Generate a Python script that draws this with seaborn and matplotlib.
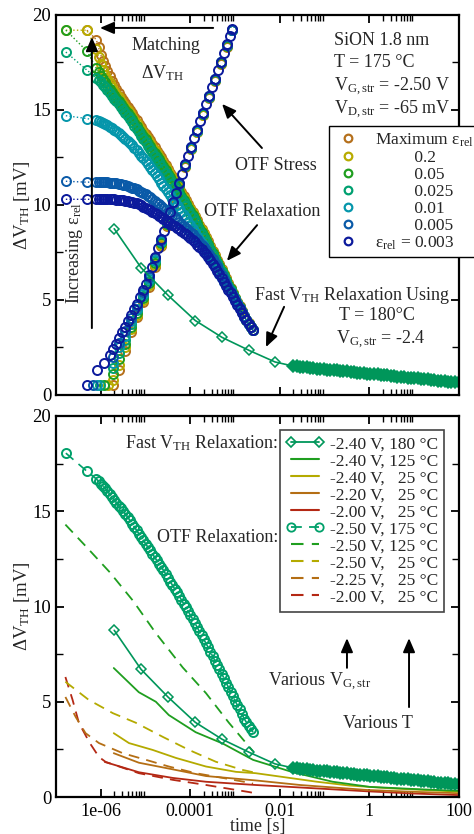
import numpy as np
import seaborn as sns
import matplotlib.pyplot as plt
from matplotlib.lines import Line2D
from matplotlib.ticker import FixedLocator, FixedFormatter, MultipleLocator, NullFormatter

# ---------------- data (time given as log10 of seconds) ----------------
eps_labels = ["Maximum", "0.2", "0.05", "0.025", "0.01", "0.005", "0.003"]
eps_colors = ["#b5701c", "#b8ab00", "#1f9e1f", "#00a070", "#0596ab", "#0a5aa8", "#0c1a9c"]

# OTF relaxation: first (sparse) points per curve, then a shared dense grid
relax_head_logt = [[-6.31], [-6.78, -6.31], [-6.78, -6.31], [-6.78, -6.31],
                   [-6.78, -6.31], [-6.78, -6.31], [-6.78, -6.31]]
relax_head_v = [[19.2], [19.2, 19.2], [19.2, 18.1], [18.05, 17.1],
                [14.7, 14.55], [11.25, 11.2], [10.3, 10.3]]
relax_logt = [-6.10, -6.05, -6.00, -5.95, -5.90, -5.85, -5.80, -5.75, -5.70, -5.65, -5.60,
              -5.55, -5.50, -5.45, -5.40, -5.35, -5.30, -5.25, -5.20, -5.15, -5.10, -5.05,
              -5.00, -4.95, -4.90, -4.85, -4.80, -4.75, -4.70, -4.65, -4.60, -4.55, -4.50,
              -4.45, -4.40, -4.35, -4.30, -4.25, -4.20, -4.15, -4.10, -4.05, -4.00, -3.95,
              -3.90, -3.85, -3.80, -3.75, -3.70, -3.65, -3.60, -3.55, -3.50, -3.45, -3.40,
              -3.35, -3.30, -3.25, -3.20, -3.15, -3.10, -3.05, -3.00, -2.95, -2.90, -2.85,
              -2.80, -2.75, -2.70, -2.65, -2.60]
relax_max = [18.7, 18.3, 17.9, 17.6, 17.3, 17.05, 16.8, 16.55, 16.3, 16.1, 15.9, 15.71, 15.52,
             15.35, 15.18, 15.0, 14.82, 14.64, 14.46, 14.28, 14.1, 13.92, 13.75, 13.57, 13.4,
             13.22, 13.04, 12.86, 12.68, 12.5, 12.31, 12.1, 11.9, 11.7, 11.51, 11.31, 11.11,
             10.9, 10.7, 10.49, 10.28, 10.07, 9.86, 9.65, 9.44, 9.2, 8.97, 8.75, 8.53, 8.3,
             8.08, 7.84, 7.6, 7.36, 7.12, 6.88, 6.64, 6.39, 6.14, 5.88, 5.63, 5.38, 5.13, 4.9,
             4.66, 4.41, 4.17, 3.97, 3.78, 3.59, 3.4]
relax_02 = [18.2, 17.8, 17.4, 17.1, 16.85, 16.62, 16.4, 16.2, 16.0, 15.83, 15.66, 15.49, 15.32,
            15.16, 15.0, 14.82, 14.65, 14.47, 14.3, 14.12, 13.95, 13.77, 13.6, 13.42, 13.25,
            13.07, 12.9, 12.72, 12.55, 12.36, 12.18, 11.98, 11.78, 11.59, 11.4, 11.2, 11.0,
            10.8, 10.6, 10.39, 10.18, 9.97, 9.77, 9.56, 9.36, 9.13, 8.9, 8.68, 8.46, 8.24,
            8.02, 7.78, 7.54, 7.3, 7.07, 6.83, 6.6, 6.35, 6.1, 5.85, 5.6, 5.35, 5.11, 4.87,
            4.64, 4.4, 4.16, 3.96, 3.77, 3.58, 3.4]
relax_005 = [17.2, 17.0, 16.8, 16.62, 16.45, 16.27, 16.1, 15.94, 15.78, 15.62, 15.47, 15.31,
             15.15, 15.0, 14.85, 14.67, 14.5, 14.32, 14.15, 13.97, 13.8, 13.62, 13.45, 13.27,
             13.1, 12.92, 12.75, 12.57, 12.4, 12.22, 12.04, 11.84, 11.64, 11.45, 11.26, 11.07,
             10.88, 10.68, 10.48, 10.27, 10.07, 9.86, 9.66, 9.46, 9.26, 9.03, 8.8, 8.58, 8.37,
             8.15, 7.94, 7.7, 7.46, 7.23, 7.0, 6.77, 6.54, 6.3, 6.05, 5.8, 5.56, 5.32, 5.08,
             4.85, 4.62, 4.38, 4.14, 3.95, 3.76, 3.58, 3.4]
relax_0025 = [16.7, 16.57, 16.45, 16.32, 16.2, 16.05, 15.9, 15.75, 15.6, 15.45, 15.3, 15.15,
              15.0, 14.85, 14.7, 14.52, 14.35, 14.17, 14.0, 13.82, 13.65, 13.47, 13.3, 13.12,
              12.95, 12.77, 12.6, 12.42, 12.25, 12.07, 11.9, 11.7, 11.5, 11.31, 11.12, 10.93,
              10.75, 10.55, 10.35, 10.15, 9.95, 9.75, 9.55, 9.35, 9.15, 8.92, 8.7, 8.49, 8.28,
              8.06, 7.85, 7.61, 7.38, 7.15, 6.93, 6.7, 6.48, 6.24, 6.0, 5.76, 5.52, 5.28, 5.05,
              4.82, 4.6, 4.36, 4.12, 3.93, 3.75, 3.57, 3.4]
relax_001 = [14.45, 14.41, 14.36, 14.31, 14.25, 14.19, 14.12, 14.05, 13.97, 13.89, 13.8, 13.7,
             13.6, 13.49, 13.38, 13.26, 13.14, 13.01, 12.88, 12.74, 12.6, 12.45, 12.3, 12.15,
             12.0, 11.84, 11.68, 11.52, 11.35, 11.18, 11.02, 10.85, 10.68, 10.51, 10.34, 10.17,
             10.0, 9.83, 9.65, 9.48, 9.3, 9.12, 8.94, 8.76, 8.58, 8.39, 8.2, 8.01, 7.82, 7.63,
             7.43, 7.23, 7.02, 6.81, 6.6, 6.39, 6.17, 5.97, 5.78, 5.59, 5.4, 5.22, 5.05, 4.82,
             4.6, 4.37, 4.15, 3.95, 3.75, 3.57, 3.4]
relax_0005 = [11.22, 11.21, 11.2, 11.2, 11.2, 11.19, 11.18, 11.17, 11.15, 11.14, 11.12, 11.1,
              11.07, 11.04, 11.0, 10.96, 10.92, 10.87, 10.82, 10.76, 10.7, 10.63, 10.56, 10.48,
              10.4, 10.31, 10.22, 10.13, 10.04, 9.95, 9.85, 9.75, 9.65, 9.55, 9.45, 9.35, 9.24,
              9.13, 9.02, 8.91, 8.8, 8.69, 8.57, 8.45, 8.32, 8.19, 8.06, 7.92, 7.78, 7.63, 7.48,
              7.32, 7.15, 6.97, 6.78, 6.55, 6.3, 6.08, 5.85, 5.63, 5.42, 5.21, 5.0, 4.78, 4.57,
              4.35, 4.14, 3.94, 3.75, 3.57, 3.4]
relax_0003 = [10.3, 10.3, 10.3, 10.3, 10.3, 10.3, 10.3, 10.3, 10.29, 10.28, 10.27, 10.26, 10.25,
              10.23, 10.21, 10.18, 10.15, 10.12, 10.08, 10.03, 9.98, 9.92, 9.86, 9.79, 9.72,
              9.65, 9.57, 9.5, 9.42, 9.35, 9.27, 9.2, 9.12, 9.04, 8.96, 8.88, 8.8, 8.72, 8.63,
              8.54, 8.45, 8.35, 8.25, 8.14, 8.03, 7.92, 7.8, 7.68, 7.55, 7.41, 7.27, 7.09, 6.9,
              6.73, 6.55, 6.35, 6.15, 5.95, 5.75, 5.55, 5.35, 5.15, 4.95, 4.75, 4.55, 4.33, 4.12,
              3.93, 3.74, 3.57, 3.4]
relax_dense = [relax_max, relax_02, relax_005, relax_0025, relax_001, relax_0005, relax_0003]

# OTF stress: eps = 0.003 on a fine grid, the others on a coarser grid
stress_fine_logt = [-6.31, -6.09, -5.93, -5.80, -5.73, -5.67, -5.60, -5.53, -5.46, -5.40,
                    -5.33, -5.26, -5.20, -5.13, -5.06, -4.99, -4.93, -4.86, -4.79, -4.73,
                    -4.66, -4.59, -4.53, -4.46, -4.39, -4.32, -4.26, -4.19, -4.12, -4.06,
                    -3.99, -3.92, -3.86, -3.79, -3.72, -3.65, -3.59, -3.52, -3.45, -3.39,
                    -3.32, -3.25, -3.18, -3.12, -3.07]
stress_0003 = [0.55, 1.3, 1.7, 2.1, 2.4, 2.7, 3.0, 3.3, 3.6, 3.9, 4.2, 4.5, 4.8, 5.15, 5.5,
               5.85, 6.3, 6.75, 7.25, 7.75, 8.2, 8.65, 9.15, 9.65, 10.15, 10.65, 11.15,
               11.65, 12.15, 12.6, 13.05, 13.5, 13.95, 14.4, 14.85, 15.3, 15.75, 16.2,
               16.65, 17.1, 17.55, 18.0, 18.45, 18.9, 19.25]
stress_coarse_logt = [-5.73, -5.60, -5.46, -5.33, -5.20, -5.06, -4.93, -4.79, -4.66, -4.53,
                      -4.39, -4.26, -4.12, -3.99, -3.86, -3.72, -3.59, -3.45, -3.32, -3.18, -3.07]
stress_start_logt = [None, -5.84, -5.93, -6.02, -6.09, -6.18]   # first point (0.55 mV)
stress_start_v = 0.55
stress_max = [0.55, 1.3, 2.3, 3.3, 4.1, 4.9, 5.7, 6.75, 7.85, 8.9, 9.95, 11.0, 12.0, 12.94,
              13.84, 14.74, 15.64, 16.54, 17.44, 18.34, 19.2]
stress_02 = [0.8, 1.6, 2.5, 3.45, 4.2, 5.0, 5.8, 6.85, 7.9, 8.95, 10.0, 11.03, 12.03, 12.96,
             13.86, 14.76, 15.66, 16.56, 17.46, 18.36, 19.2]
stress_005 = [1.1, 1.9, 2.7, 3.6, 4.3, 5.1, 5.9, 6.95, 7.98, 9.0, 10.03, 11.06, 12.05, 12.98,
              13.88, 14.78, 15.68, 16.58, 17.48, 18.38, 19.2]
stress_0025 = [1.4, 2.2, 2.9, 3.75, 4.45, 5.2, 6.0, 7.05, 8.05, 9.05, 10.07, 11.09, 12.08, 13.0,
               13.9, 14.8, 15.7, 16.6, 17.5, 18.4, 19.2]
stress_001 = [1.7, 2.5, 3.1, 3.9, 4.55, 5.3, 6.1, 7.12, 8.1, 9.1, 10.1, 11.11, 12.1, 13.01,
              13.92, 14.82, 15.72, 16.62, 17.52, 18.42, 19.22]
stress_0005 = [2.0, 2.75, 3.35, 4.05, 4.7, 5.4, 6.2, 7.2, 8.15, 9.12, 10.12, 11.13, 12.13, 13.03,
               13.93, 14.83, 15.73, 16.63, 17.53, 18.43, 19.23]
stress_coarse = [stress_max, stress_02, stress_005, stress_0025, stress_001, stress_0005]

# fast V_TH relaxation, -2.40 V, 180 C
fast_logt = [-5.70, -5.10, -4.50, -3.89, -3.29, -2.69, -2.11]
fast_v = [8.75, 6.7, 5.25, 3.92, 3.03, 2.35, 1.74]
band_logt = [-1.70, -1.62, -1.55, -1.48, -1.40, -1.32, -1.25, -1.18, -1.10, -1.02, -0.95,
             -0.88, -0.80, -0.72, -0.65, -0.58, -0.50, -0.42, -0.35, -0.28, -0.20, -0.12,
             -0.05, 0.02, 0.10, 0.18, 0.25, 0.32, 0.40, 0.48, 0.55, 0.62, 0.70, 0.78, 0.85,
             0.92, 1.00, 1.08, 1.15, 1.22, 1.30, 1.38, 1.45, 1.52, 1.60, 1.68, 1.75, 1.82,
             1.90, 2.00]
band_v = [1.52, 1.50, 1.48, 1.46, 1.45, 1.43, 1.41, 1.39, 1.38, 1.36, 1.34, 1.32, 1.31, 1.29,
          1.27, 1.25, 1.24, 1.22, 1.20, 1.18, 1.17, 1.15, 1.13, 1.11, 1.10, 1.08, 1.06, 1.04,
          1.03, 1.01, 0.99, 0.97, 0.96, 0.94, 0.92, 0.90, 0.89, 0.87, 0.85, 0.83, 0.82, 0.80,
          0.78, 0.76, 0.75, 0.73, 0.71, 0.69, 0.68, 0.66]

# bottom panel: fast relaxation (solid) and OTF relaxation (dashed)
c180, c125, c25a, c25b, c25c = "#00965a", "#1f9e1f", "#b4aa00", "#b46e14", "#b42814"
fast125_logt = [-5.71, -5.15, -4.77, -4.48, -3.88, -3.27, -2.60, -1.71, -0.82, 0.01, 1.0, 2.0]
fast125_v = [6.77, 5.5, 5.0, 4.3, 3.4, 2.8, 1.95, 1.3, 0.8, 0.53, 0.42, 0.32]
fast240_logt = [-5.71, -5.37, -4.84, -4.32, -3.65, -2.98, -2.54, -1.93, -1.17, -0.44, 0.5, 2.0]
fast240_v = [3.35, 2.83, 2.47, 2.05, 1.6, 1.32, 1.25, 1.05, 0.8, 0.6, 0.45, 0.28]
fast220_logt = [-5.71, -5.15, -4.39, -3.65, -2.54, -1.55, -0.06, 1.0, 2.0]
fast220_v = [2.3, 1.8, 1.45, 1.1, 0.87, 0.63, 0.37, 0.27, 0.2]
fast200_logt = [-5.91, -5.15, -4.39, -3.65, -2.54, -1.55, -0.06, 1.0, 2.0]
fast200_v = [1.84, 1.3, 1.0, 0.8, 0.63, 0.5, 0.3, 0.18, 0.1]

otf125_logt = [-6.79, -6.31, -5.80, -5.28, -4.77, -4.17, -3.65, -3.14, -2.69, -2.60]
otf125_v = [14.3, 13.1, 11.8, 10.3, 8.6, 6.8, 5.45, 3.9, 2.65, 2.4]
otf250_logt = [-6.79, -6.27, -5.73, -5.22, -4.61, -4.03, -3.43, -2.83, -2.60]
otf250_v = [6.05, 5.1, 4.4, 3.9, 3.15, 2.47, 1.85, 1.42, 1.3]
otf225_logt = [-6.79, -6.56, -6.34, -6.04, -5.51, -4.99, -4.48, -3.88, -3.27, -2.69, -2.60]
otf225_v = [5.25, 4.2, 3.35, 2.83, 2.3, 1.95, 1.6, 1.25, 1.0, 0.75, 0.7]
otf200_logt = [-6.79, -6.63, -6.49, -6.25, -6.04, -5.89, -5.15, -4.39, -3.65, -2.69, -2.60]
otf200_v = [6.3, 5.1, 3.9, 2.85, 2.1, 1.84, 1.25, 0.9, 0.63, 0.26, 0.22]

legend_b = ["-2.40 V, 180 °C", "-2.40 V, 125 °C", "-2.40 V,   25 °C", "-2.20 V,   25 °C",
            "-2.00 V,   25 °C", "-2.50 V, 175 °C", "-2.50 V, 125 °C", "-2.50 V,   25 °C",
            "-2.25 V,   25 °C", "-2.00 V,   25 °C"]

major_t = [1e-6, 1e-4, 1e-2, 1, 100]
major_lbl = ["1e-06", "0.0001", "0.01", "1", "100"]

# ---------------- style ----------------
sns.set_theme(style="ticks", rc={
    "axes.linewidth": 1.5,
    "xtick.direction": "in", "ytick.direction": "in",
    "xtick.top": True, "ytick.right": True,
    "xtick.major.width": 1.3, "ytick.major.width": 1.3,
    "xtick.minor.width": 1.0, "ytick.minor.width": 1.0,
    "axes.edgecolor": "black", "xtick.color": "black", "ytick.color": "black",
})
plt.rcParams["font.family"] = ["Liberation Serif", "DejaVu Serif"]
plt.rcParams["mathtext.fontset"] = "custom"
plt.rcParams["mathtext.rm"] = "Liberation Serif"
plt.rcParams["mathtext.it"] = "Liberation Serif:italic"
plt.rcParams["mathtext.bf"] = "Liberation Serif:bold"

FS = 13
MS = 6.5
MEW = 1.4


def t(logt):
    return 10.0 ** np.asarray(logt, dtype=float)


def draw(ax, logt, v, color, **kw):
    kw.setdefault("markeredgecolor", color)
    kw.setdefault("markeredgewidth", MEW)
    sns.lineplot(x=t(logt), y=np.asarray(v, dtype=float), ax=ax, color=color,
                 estimator=None, sort=False, legend=False, **kw)


def style_axis(ax, labels):
    ax.set_xscale("log")
    ax.set_xlim(1e-7, 100)
    ax.set_ylim(0, 20)
    ax.xaxis.set_major_locator(FixedLocator(major_t))
    minor = [k * 10.0 ** e for e in (-6, -4, -2, 0) for k in range(2, 10)]
    ax.xaxis.set_minor_locator(FixedLocator(minor))
    ax.xaxis.set_minor_formatter(NullFormatter())
    if labels:
        ax.xaxis.set_major_formatter(FixedFormatter(major_lbl))
    else:
        ax.xaxis.set_major_formatter(NullFormatter())
    ax.yaxis.set_major_locator(MultipleLocator(5))
    ax.yaxis.set_minor_locator(MultipleLocator(2.5))
    ax.tick_params(which="both", direction="in", top=True, right=True, labelsize=FS + 0.5)
    ax.tick_params(which="major", length=6)
    ax.tick_params(which="minor", length=4)
    ax.tick_params(axis="y", which="minor", length=5)
    ax.tick_params(axis="x", which="major", pad=4, labelsize=FS)
    ax.set_ylabel("ΔV$_{\\mathrm{TH}}$ [mV]", fontsize=FS + 0.5)
    ax.yaxis.set_label_coords(-0.06, 0.5)
    for s in ax.spines.values():
        s.set_linewidth(1.6)


def arrow(ax, tip, tail):
    ax.annotate("", xy=tip, xytext=tail, xycoords="axes fraction", textcoords="axes fraction",
                arrowprops=dict(arrowstyle="-|>,head_length=0.7,head_width=0.3", color="black",
                                lw=1.4, mutation_scale=12, shrinkA=0, shrinkB=0))


fig = plt.figure(figsize=(4.74, 8.34), dpi=100)
ax1 = fig.add_axes([56 / 474, 1 - 395 / 834, 403 / 474, 380 / 834])
ax2 = fig.add_axes([56 / 474, 1 - 797 / 834, 403 / 474, 381 / 834])

# ---------------- top panel ----------------
for i, c in enumerate(eps_colors):
    if i < 6:
        st_logt = list(stress_coarse_logt)
        st_v = list(stress_coarse[i])
        if stress_start_logt[i] is not None:
            st_logt = [stress_start_logt[i]] + st_logt
            st_v = [stress_start_v] + st_v
    else:
        st_logt, st_v = stress_fine_logt, stress_0003
    draw(ax1, st_logt, st_v, c, linestyle="none", marker="o", markersize=MS,
         markerfacecolor="none")
    draw(ax1, relax_head_logt[i] + relax_logt, relax_head_v[i] + relax_dense[i], c,
         linestyle=":", linewidth=1.0, marker="o", markersize=MS, markerfacecolor="none")

draw(ax1, fast_logt + band_logt, fast_v + band_v, c180, linewidth=1.2, marker="D",
     markersize=4.6, markerfacecolor="none", markeredgewidth=1.1)
draw(ax1, band_logt, band_v, c180, linestyle="none", marker="D", markersize=5.8,
     markerfacecolor=c180, markeredgewidth=1.1)

style_axis(ax1, labels=False)

eps_leg = ["Maximum ε$_{\\mathrm{rel}}$"] + ["         " + s for s in eps_labels[1:6]] + \
          ["ε$_{\\mathrm{rel}}$ = 0.003"]
h_top = [Line2D([], [], linestyle="none", marker="o", markersize=5.5, markerfacecolor="none",
                markeredgecolor=c, markeredgewidth=1.6) for c in eps_colors]
leg1 = ax1.legend(h_top, eps_leg, loc="upper left", bbox_to_anchor=(0.677, 0.708),
                  frameon=True, fancybox=False, edgecolor="black", framealpha=1,
                  fontsize=12.5, handlelength=1.6, handletextpad=0.75, borderpad=0.3,
                  labelspacing=0.05, borderaxespad=0)
leg1.get_frame().set_linewidth(1.0)

tx = dict(transform=ax1.transAxes, fontsize=FS)
ax1.text(0.690, 0.932, "SiON 1.8 nm", ha="left", va="center", **tx)
ax1.text(0.690, 0.876, "T = 175 °C", ha="left", va="center", **tx)
ax1.text(0.690, 0.812, "V$_{\\mathrm{G,str}}$ = -2.50 V", ha="left", va="center", **tx)
ax1.text(0.690, 0.751, "V$_{\\mathrm{D,str}}$ = -65 mV", ha="left", va="center", **tx)
ax1.text(0.273, 0.921, "Matching", ha="center", va="center", **tx)
ax1.text(0.265, 0.848, "ΔV$_{\\mathrm{TH}}$", ha="center", va="center", **tx)
ax1.text(0.047, 0.374, "Increasing ε$_{\\mathrm{rel}}$", ha="center", va="center",
         rotation=90, **tx)
ax1.text(0.545, 0.605, "OTF Stress", ha="center", va="center", **tx)
ax1.text(0.511, 0.484, "OTF Relaxation", ha="center", va="center", **tx)
ax1.text(0.734, 0.263, "Fast V$_{\\mathrm{TH}}$ Relaxation Using", ha="center", va="center", **tx)
ax1.text(0.797, 0.210, "T = 180°C", ha="center", va="center", **tx)
ax1.text(0.805, 0.145, "V$_{\\mathrm{G,str}}$ = -2.4", ha="center", va="center", **tx)

arrow(ax1, (0.109, 0.966), (0.390, 0.966))
arrow(ax1, (0.089, 0.942), (0.089, 0.176))
arrow(ax1, (0.412, 0.766), (0.511, 0.650))
arrow(ax1, (0.424, 0.353), (0.499, 0.447))
arrow(ax1, (0.521, 0.126), (0.566, 0.232))

# ---------------- bottom panel ----------------
DASH = (0, (6, 4))
draw(ax2, otf200_logt, otf200_v, c25c, linestyle=DASH, linewidth=1.3)
draw(ax2, otf225_logt, otf225_v, c25b, linestyle=DASH, linewidth=1.3)
draw(ax2, otf250_logt, otf250_v, c25a, linestyle=DASH, linewidth=1.3)
draw(ax2, otf125_logt, otf125_v, c125, linestyle=DASH, linewidth=1.3)
draw(ax2, fast200_logt, fast200_v, c25c, linewidth=1.3)
draw(ax2, fast220_logt, fast220_v, c25b, linewidth=1.3)
draw(ax2, fast240_logt, fast240_v, c25a, linewidth=1.3)
draw(ax2, fast125_logt, fast125_v, c125, linewidth=1.3)
draw(ax2, fast_logt + band_logt, fast_v + band_v, c180, linewidth=1.2, marker="D",
     markersize=4.6, markerfacecolor="none", markeredgewidth=1.1)
draw(ax2, band_logt, band_v, c180, linestyle="none", marker="D", markersize=5.8,
     markerfacecolor=c180, markeredgewidth=1.1)
draw(ax2, relax_head_logt[3] + relax_logt, relax_head_v[3] + relax_0025, "#00a06a",
     linestyle=DASH, linewidth=1.2, marker="o", markersize=MS, markerfacecolor="none")

style_axis(ax2, labels=True)
ax2.set_xlabel("time [s]", fontsize=FS)
ax2.xaxis.set_label_coords(0.5, -0.056)

h_bot = [
    Line2D([], [], color=c180, lw=1.3, marker="D", markersize=4.6, markerfacecolor="none",
           markeredgecolor=c180, markeredgewidth=1.2),
    Line2D([], [], color=c125, lw=1.5),
    Line2D([], [], color=c25a, lw=1.5),
    Line2D([], [], color=c25b, lw=1.5),
    Line2D([], [], color=c25c, lw=1.5),
    Line2D([], [], color="#00a06a", lw=1.3, linestyle=DASH, marker="o", markersize=6,
           markerfacecolor="none", markeredgecolor="#00a06a", markeredgewidth=1.3),
    Line2D([], [], color=c125, lw=1.5, linestyle=DASH),
    Line2D([], [], color=c25a, lw=1.5, linestyle=DASH),
    Line2D([], [], color=c25b, lw=1.5, linestyle=DASH),
    Line2D([], [], color=c25c, lw=1.5, linestyle=DASH),
]
leg2 = ax2.legend(h_bot, legend_b, loc="upper left", bbox_to_anchor=(0.556, 0.963),
                  frameon=True, fancybox=False, edgecolor="#444444", framealpha=1,
                  fontsize=12.5, handlelength=2.2, handletextpad=0.3, borderpad=0.35,
                  labelspacing=0.05, borderaxespad=0, numpoints=2)
leg2.get_frame().set_linewidth(1.2)

tb = dict(transform=ax2.transAxes, fontsize=FS)
ax2.text(0.551, 0.929, "Fast V$_{\\mathrm{TH}}$ Relaxation:", ha="right", va="center", **tb)
ax2.text(0.551, 0.682, "OTF Relaxation:", ha="right", va="center", **tb)
ax2.text(0.655, 0.302, "Various V$_{\\mathrm{G,str}}$", ha="center", va="center", **tb)
ax2.text(0.799, 0.194, "Various T", ha="center", va="center", **tb)
arrow(ax2, (0.722, 0.417), (0.722, 0.339))
arrow(ax2, (0.876, 0.417), (0.876, 0.236))

fig.savefig("out.png", dpi=100)
